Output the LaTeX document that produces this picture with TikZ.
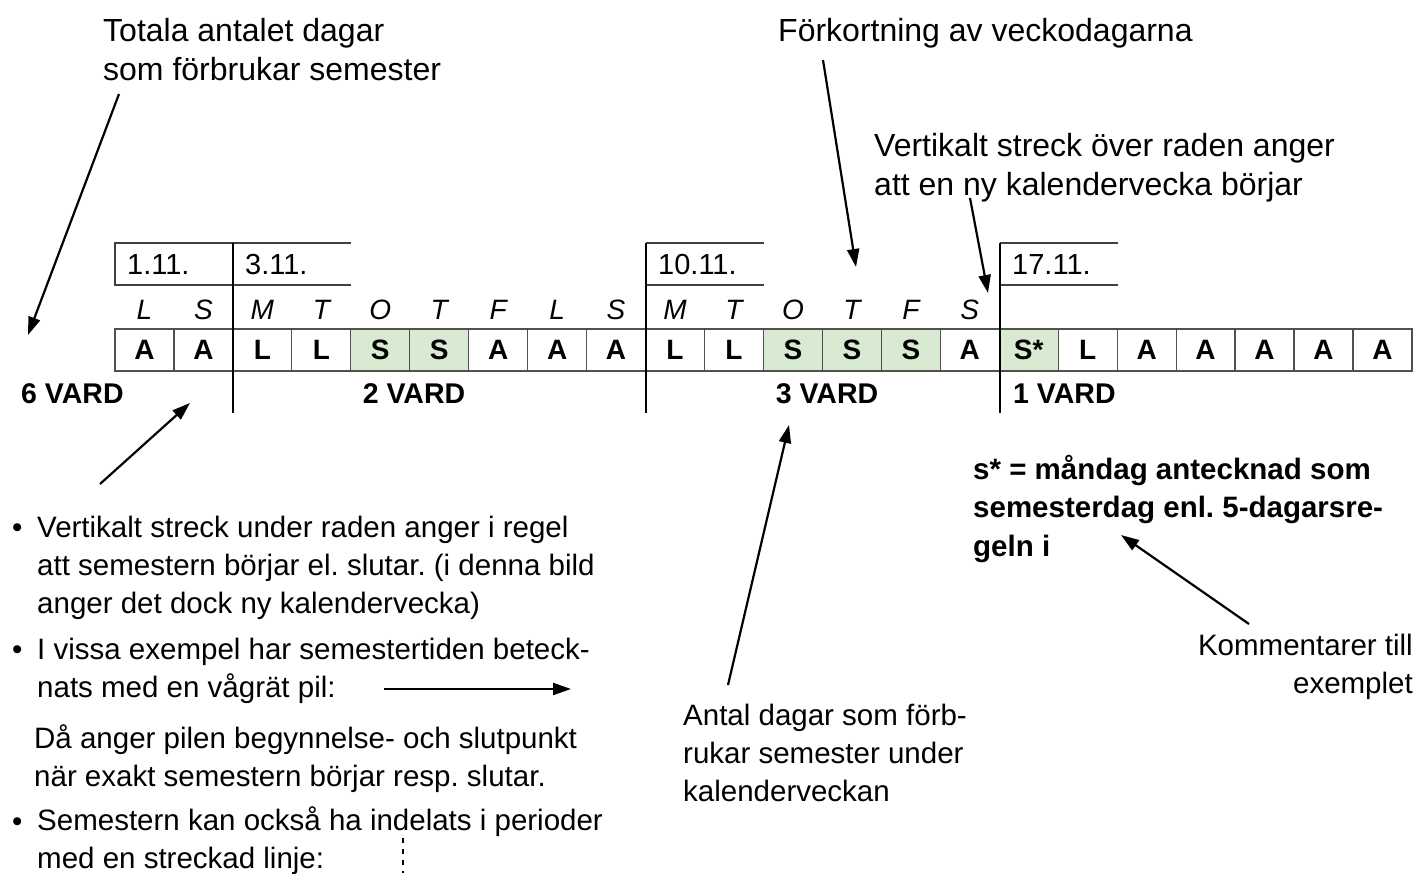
\documentclass[tikz,border=0pt]{standalone}
\usepackage{fontspec}
\setmainfont{Liberation Sans}
\usetikzlibrary{arrows.meta}
\frenchspacing
\definecolor{vgreen}{HTML}{D9EAD3}
\definecolor{cellline}{HTML}{505050}
\definecolor{dateline}{HTML}{404040}
\begin{document}
\begin{tikzpicture}[x=1pt,y=-1pt,
  txt/.style={font=\fontsize{29.5}{38}\selectfont, inner sep=0pt, align=left, anchor=base west},
  toptxt/.style={font=\fontsize{32}{38.5}\selectfont, inner sep=0pt, align=left, anchor=base west},
  btxt/.style={font=\fontsize{29.5}{38.5}\selectfont\bfseries, inner sep=0pt, align=left, anchor=base west},
  vard/.style={font=\fontsize{28.5}{32}\selectfont\bfseries, inner sep=0pt},
  cell/.style={draw=cellline, line width=1.2pt, minimum width=58.95pt, minimum height=42pt, inner sep=0pt, font=\fontsize{28}{30}\selectfont\bfseries},
  wday/.style={font=\fontsize{28}{30}\selectfont\itshape, inner sep=0pt, anchor=base},
  datetxt/.style={font=\fontsize{29}{32}\selectfont, inner sep=0pt, anchor=base west},
  arr/.style={-{Triangle[length=18pt,width=12pt]}, line width=2.2pt},
  wline/.style={line width=2.2pt},
  dline/.style={draw=dateline, line width=1.5pt}
]
\useasboundingbox (0,0) rectangle (1418,873);

% day cells
\foreach \i/\t/\g in {0/A/0,1/A/0,2/L/0,3/L/0,4/S/1,5/S/1,6/A/0,7/A/0,8/A/0,9/L/0,10/L/0,11/S/1,12/S/1,13/S/1,14/A/0,15/S*/1,16/L/0,17/A/0,18/A/0,19/A/0,20/A/0,21/A/0}{
  \pgfmathsetmacro\cx{115+58.95*(\i+0.5)}
  \ifnum\g=1 \def\fc{vgreen}\else\def\fc{white}\fi
  \node[cell, fill=\fc] (c\i) at (\cx,350) {\t};
}

% weekday letters
\foreach \i/\t in {0/L,1/S,2/M,3/T,4/O,5/T,6/F,7/L,8/S,9/M,10/T,11/O,12/T,13/F,14/S}{
  \pgfmathsetmacro\cx{115+58.95*(\i+0.5)}
  \node[wday] (w\i) at (\cx,319) {\t};
}

% date boxes
\draw[dline] (115,243) rectangle (233,285);
\draw[dline] (233,243) -- (351,243) (233,285) -- (351,285);
\draw[dline] (646,243) -- (764,243) (646,285) -- (764,285);
\draw[dline] (1000,243) -- (1118,243) (1000,285) -- (1118,285);
\node[datetxt] (d1) at (127,274) {1.11.};
\node[datetxt] (d3) at (245,274) {3.11.};
\node[datetxt] (d10) at (658,274) {10.11.};
\node[datetxt] (d17) at (1012,274) {17.11.};

% week lines
\draw[wline] (233,243) -- (233,413);
\draw[wline] (646,243) -- (646,413);
\draw[wline] (1000,243) -- (1000,413);

% VARD labels
\node[vard, anchor=base west] (v6) at (21,403) {6 VARD};
\node[vard, anchor=base] (v2) at (414,403) {2 VARD};
\node[vard, anchor=base] (v3) at (827,403) {3 VARD};
\node[vard, anchor=base west] (v1) at (1013,403) {1 VARD};

% annotations (anchor = baseline of last line)
\node[toptxt] (totala) at (103,80) {Totala antalet dagar\\som förbrukar semester};
\node[toptxt] (fork) at (778,41) {Förkortning av veckodagarna};
\node[toptxt] (vert) at (874,195) {Vertikalt streck över raden anger\\att en ny kalendervecka börjar};
\node[btxt] (sstar) at (973,556) {s* = måndag antecknad som\\semesterdag enl. 5-dagarsre-\\geln i};
\node[txt, align=right, anchor=base east] (komm) at (1413,693) {Kommentarer till\\exemplet};
\node[txt] (antal) at (683,801) {Antal dagar som förb-\\rukar semester under\\kalenderveckan};

% bullets
\node[txt] (b1) at (12,537) {•};
\node[txt] (t1) at (37,613) {Vertikalt streck under raden anger i regel\\att semestern börjar el. slutar. (i denna bild\\anger det dock ny kalendervecka)};
\node[txt] (b2) at (12,659) {•};
\node[txt] (t2) at (37,697) {I vissa exempel har semestertiden beteck-\\nats med en vågrät pil:};
\node[txt] (t2b) at (34,786) {Då anger pilen begynnelse- och slutpunkt\\när exakt semestern börjar resp. slutar.};
\node[txt] (b3) at (12,831) {•};
\node[txt] (t3) at (37,868) {Semestern kan också ha indelats i perioder\\med en streckad linje:};

% arrow coordinates
\coordinate (a1s) at (119,94);   \coordinate (a1e) at (28,335);
\coordinate (a2s) at (823,60);   \coordinate (a2e) at (856,267);
\coordinate (a3s) at (970,198);  \coordinate (a3e) at (988,293);
\coordinate (a4s) at (100,484);  \coordinate (a4e) at (190,403);
\coordinate (a5s) at (728,685);  \coordinate (a5e) at (789,425);
\coordinate (a6s) at (1249,624); \coordinate (a6e) at (1121,535);
\coordinate (hps) at (384,689);  \coordinate (hpe) at (571,689);
\coordinate (dls) at (403,838);  \coordinate (dle) at (403,873);

\draw[arr] (a1s) -- (a1e);
\draw[arr] (a2s) -- (a2e);
\draw[arr] (a3s) -- (a3e);
\draw[arr] (a4s) -- (a4e);
\draw[arr] (a5s) -- (a5e);
\draw[arr] (a6s) -- (a6e);
\draw[arr] (hps) -- (hpe);
\draw[line width=2.2pt, dash pattern=on 5pt off 6pt] (dls) -- (dle);
\end{tikzpicture}
\end{document}
